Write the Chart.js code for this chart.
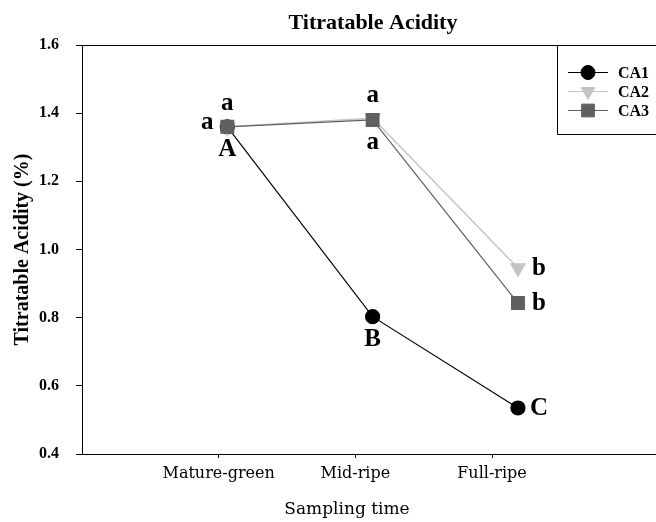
<!DOCTYPE html>
<html>
<head>
<meta charset="utf-8">
<script src="https://cdn.jsdelivr.net/npm/chart.js@4"></script>
<style>
  body { margin: 0; background: #fff; }
  #wrap { width: 656px; height: 522px; }
</style>
</head>
<body>
<div id="wrap"><canvas id="taChart"></canvas></div>
<script>
// data
const categories = ['Mature-green', 'Mid-ripe', 'Full-ripe'];
const ca1 = [1.36, 0.803, 0.535];
const ca2 = [1.36, 1.385, 0.946];
const ca3 = [1.36, 1.38, 0.843];
const lettersCA1 = ['A', 'B', 'C'];
const lettersCA2 = ['a', 'a', 'b'];
const lettersCA3 = ['a', 'a', 'b'];
const yTicks = [0.4, 0.6, 0.8, 1.0, 1.2, 1.4, 1.6];

const serif = "'Liberation Serif', 'Times New Roman', serif";

// where each significance letter sits around its point
const letterPlace = {
    CA1: ['below', 'below', 'right'],
    CA2: ['above', 'above', 'right'],
    CA3: ['left', 'below', 'right']
};
const offsets = {
    above: [0, -23],
    below: [0, 23],
    left: [-20, -4],
    right: [21, 1]
};

const toPoints = arr => arr.map((v, i) => ({x: i + 1, y: v}));

const overlayPlugin = {
    id: 'overlay',
    afterDatasetsDraw: (chart) => {
        const {ctx, chartArea} = chart;
        const xs = chart.scales.x, ys = chart.scales.y;
        ctx.save();

        // top frame line
        ctx.strokeStyle = '#000';
        ctx.lineWidth = 1;
        ctx.beginPath();
        ctx.moveTo(chartArea.left, chartArea.top + 0.5);
        ctx.lineTo(chart.width, chartArea.top + 0.5);
        ctx.stroke();

        // letters
        ctx.fillStyle = '#000';
        ctx.font = 'bold 25px ' + serif;
        ctx.textAlign = 'center';
        ctx.textBaseline = 'middle';
        const letters = [lettersCA1, lettersCA2, lettersCA3];
        chart.data.datasets.forEach((ds, d) => {
            ds.data.forEach((p, i) => {
                const off = offsets[letterPlace[ds.label][i]];
                ctx.fillText(letters[d][i], xs.getPixelForValue(p.x) + off[0], ys.getPixelForValue(p.y) + off[1]);
            });
        });

        // legend box
        const bx = 557, by = chartArea.top, bb = 134;
        ctx.strokeStyle = '#000';
        ctx.beginPath();
        ctx.moveTo(bx + 0.5, by);
        ctx.lineTo(bx + 0.5, bb + 0.5);
        ctx.lineTo(chart.width, bb + 0.5);
        ctx.stroke();

        ctx.font = 'bold 16px ' + serif;
        ctx.textAlign = 'left';
        chart.data.datasets.forEach((ds, d) => {
            const ly = 72.5 + d * 19;
            ctx.strokeStyle = ds.borderColor;
            ctx.lineWidth = 1;
            ctx.beginPath();
            ctx.moveTo(568, ly);
            ctx.lineTo(608, ly);
            ctx.stroke();
            ctx.fillStyle = ds.pointBackgroundColor;
            ctx.strokeStyle = ds.pointBorderColor;
            Chart.helpers.drawPoint(ctx, {
                pointStyle: ds.pointStyle,
                rotation: ds.pointRotation || 0,
                radius: ds.pointRadius,
                borderWidth: 1
            }, 588, ly);
            ctx.fillStyle = '#000';
            ctx.fillText(ds.label, 618, ly + 1);
        });
        ctx.restore();
    },
    afterDraw: (chart) => {
        const {ctx, chartArea} = chart;
        ctx.save();
        ctx.fillStyle = '#000';
        ctx.textAlign = 'center';
        ctx.textBaseline = 'middle';
        ctx.font = 'bold 22px ' + serif;
        ctx.fillText('Titratable Acidity', (chartArea.left + chartArea.right) / 2 + 4, 23);
        ctx.font = "17px 'DejaVu Serif', serif";
        ctx.fillText('Sampling time', 347, 510);
        ctx.restore();
    }
};

const ctx = document.getElementById('taChart').getContext('2d');
const taChart = new Chart(ctx, {
    type: 'line',
    data: {
        datasets: [{
            label: 'CA1',
            data: toPoints(ca1),
            borderColor: '#000000',
            borderWidth: 1.2,
            pointStyle: 'circle',
            pointRadius: 7,
            pointBackgroundColor: '#000000',
            pointBorderColor: '#000000',
            order: 2
        }, {
            label: 'CA2',
            data: toPoints(ca2),
            borderColor: '#c4c4c4',
            borderWidth: 1.5,
            pointStyle: 'triangle',
            pointRotation: 180,
            pointRadius: 8,
            pointBackgroundColor: '#c4c4c4',
            pointBorderColor: '#c4c4c4',
            order: 1
        }, {
            label: 'CA3',
            data: toPoints(ca3),
            borderColor: '#606060',
            borderWidth: 1.2,
            pointStyle: 'rect',
            pointRadius: 9,
            pointBackgroundColor: '#606060',
            pointBorderColor: '#606060',
            order: 0
        }]
    },
    options: {
        responsive: true,
        maintainAspectRatio: false,
        animation: false,
        layout: { autoPadding: false, padding: { top: 45, left: 0, right: 0, bottom: 0 } },
        plugins: {
            legend: { display: false },
            title: { display: false },
            tooltip: { enabled: false }
        },
        scales: {
            x: {
                type: 'linear',
                display: false,
                min: 0,
                max: 3.95
            },
            x2: {
                type: 'linear',
                position: 'bottom',
                min: 0,
                max: 4.2,
                afterBuildTicks: (axis) => {
                    axis.ticks = categories.map((c, i) => ({value: i + 1}));
                },
                afterFit: (axis) => {
                    axis.height = 68;
                    axis.paddingLeft = 0;
                    axis.paddingRight = 0;
                },
                ticks: {
                    autoSkip: false,
                    maxRotation: 0,
                    padding: 6,
                    color: '#000',
                    font: { family: "'DejaVu Serif', serif", size: 16 },
                    callback: (v) => categories[v - 1]
                },
                grid: { drawOnChartArea: false, tickLength: 4, color: '#000' },
                border: { display: true, color: '#000', width: 1 }
            },
            y: {
                min: 0.4,
                max: 1.6,
                afterBuildTicks: (axis) => {
                    axis.ticks = yTicks.map(v => ({value: v}));
                },
                afterFit: (axis) => { axis.width = 82; },
                ticks: {
                    padding: 17,
                    color: '#000',
                    font: { family: serif, size: 16, weight: 'bold' },
                    callback: (v) => v.toFixed(1)
                },
                title: {
                    display: true,
                    text: 'Titratable Acidity (%)',
                    color: '#000',
                    font: { family: serif, size: 20, weight: 'bold' },
                    padding: { top: 11, bottom: 0 }
                },
                grid: { drawOnChartArea: false, tickLength: 6, color: '#000' },
                border: { display: true, color: '#000', width: 1 }
            }
        }
    },
    plugins: [overlayPlugin]
});
</script>
</body>
</html>
